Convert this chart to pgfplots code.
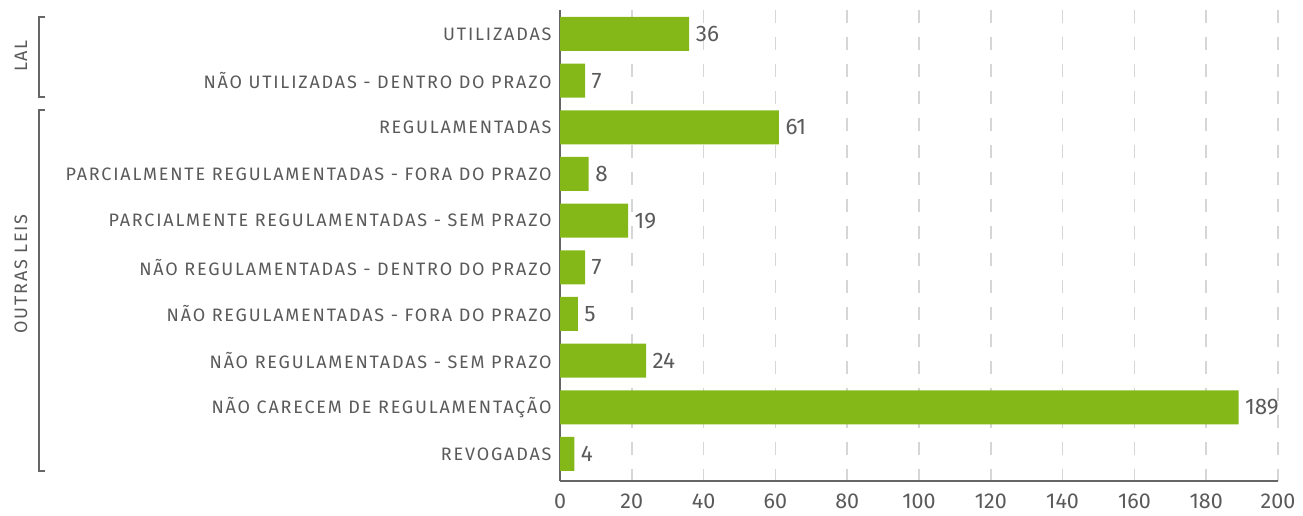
\documentclass[border=0pt]{standalone}
\usepackage{pgfplots}
\pgfplotsset{compat=1.18}
\usepackage{fontspec}
\setmainfont{Fira Sans}
\newfontfamily\catfont{Fira Sans}[LetterSpace=10]
\newfontfamily\numfont{Fira Sans}
\definecolor{bargreen}{HTML}{84B819}
\definecolor{txtgray}{HTML}{5A5A5A}
\definecolor{axgray}{HTML}{666666}
\definecolor{gridgray}{HTML}{D6D6D6}
\begin{document}
\begin{tikzpicture}
\useasboundingbox (0,0) rectangle (1303pt,516pt);
\begin{axis}[
  at={(560pt,35pt)}, anchor=south west,
  scale only axis, width=718pt, height=471pt,
  xbar, bar width=34pt,
  xmin=0, xmax=200, ymin=-0.514, ymax=9.58,
  y dir=reverse,
  ytick={0,...,9},
  yticklabels={UTILIZADAS,NÃO UTILIZADAS - DENTRO DO PRAZO,REGULAMENTADAS,PARCIALMENTE REGULAMENTADAS - FORA DO PRAZO,PARCIALMENTE REGULAMENTADAS - SEM PRAZO,NÃO REGULAMENTADAS - DENTRO DO PRAZO,NÃO REGULAMENTADAS - FORA DO PRAZO,NÃO REGULAMENTADAS - SEM PRAZO,NÃO CARECEM DE REGULAMENTAÇÃO,REVOGADAS},
  xtick={0,20,...,200},
  major tick length=0pt,
  xmajorgrids,
  grid style={gridgray, line width=1.5pt, dash pattern=on 13pt off 14pt},
  axis x line*=bottom, axis y line*=left,
  axis line style={axgray, line width=2.5pt, -},
  yticklabel style={font=\catfont\fontsize{18}{20}\selectfont, text=txtgray, xshift=-5pt},
  xticklabel style={font=\numfont\fontsize{21.5}{24}\selectfont, text=txtgray, yshift=-9pt},
  /pgf/number format/assume math mode=true,
  nodes near coords,
  nodes near coords style={font=\numfont\fontsize{22.5}{25}\selectfont, text=txtgray, xshift=3pt},
  clip=false,
]
\addplot[fill=bargreen, draw=none] coordinates {
  (36,0) (7,1) (61,2) (8,3) (19,4) (7,5) (5,6) (24,7) (189,8) (4,9)
};
\end{axis}
% group brackets
\draw[axgray, line width=2.5pt] (45pt,499pt) -- (39pt,499pt) -- (39pt,419pt) -- (45pt,419pt);
\draw[axgray, line width=2.5pt] (45pt,406pt) -- (39pt,406pt) -- (39pt,45pt) -- (45pt,45pt);
\node[rotate=90, text=txtgray, font=\catfont\fontsize{18}{20}\selectfont] at (21pt,460pt) {LAL};
\node[rotate=90, text=txtgray, font=\catfont\fontsize{18}{20}\selectfont] at (21pt,242pt) {OUTRAS LEIS};
\end{tikzpicture}
\end{document}
